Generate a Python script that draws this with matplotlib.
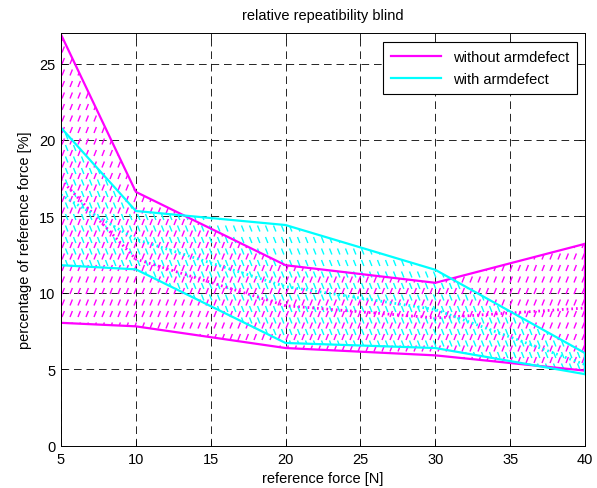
import numpy as np
import matplotlib
matplotlib.use("Agg")
import matplotlib.pyplot as plt
from matplotlib.collections import LineCollection

plt.rcParams['font.family'] = ['Liberation Sans', 'DejaVu Sans']
plt.rcParams['lines.scale_dashes'] = False

# ---- data ----
force = [5, 10, 20, 30, 40]
without_upper = [26.9, 16.6, 11.8, 10.65, 13.2]
without_mean = [17.4, 12.2, 9.15, 8.35, 9.0]
without_lower = [8.03, 7.8, 6.38, 5.9, 4.9]
with_upper = [20.8, 15.35, 14.43, 11.5, 6.05]
with_mean = [16.4, 13.5, 10.4, 8.9, 5.3]
with_lower = [11.8, 11.53, 6.71, 6.38, 4.67]

title = "relative repeatibility blind"
xlabel = "reference force [N]"
ylabel = "percentage of reference force [%]"
legend_labels = ["without armdefect", "with armdefect"]
xticks = [5, 10, 15, 20, 25, 30, 35, 40]
yticks = [0, 5, 10, 15, 20, 25]

MAG = '#ff00ff'
CYA = '#00ffff'
FS = 10.5

W, H = 597, 489
fig = plt.figure(figsize=(W / 100, H / 100), dpi=100)
ax = fig.add_axes([61 / W, 42.5 / H, 524 / W, 412.5 / H])
ax.set_xlim(5, 40)
ax.set_ylim(0, 27)
axw, axh = 524.0, 412.5


def hatch_region(x, lo, hi, color, direction, xoff, yoff):
    poly = ax.fill_between(x, lo, hi, facecolor='none', edgecolor='none')
    segs = []
    dx, dy = 8.0, 11.5       # pixel spacing
    sw, sh = 2.4, 6.0        # dash size in pixels
    y = yoff
    while y < axh:
        xx = xoff
        while xx < axw:
            if direction > 0:
                segs.append([((xx) / axw, (y) / axh), ((xx + sw) / axw, (y + sh) / axh)])
            else:
                segs.append([((xx) / axw, (y + sh) / axh), ((xx + sw) / axw, (y) / axh)])
            xx += dx
        y += dy
    lc = LineCollection(segs, colors=color, linewidths=1.0, transform=ax.transAxes)
    ax.add_collection(lc)
    lc.set_clip_path(poly.get_paths()[0], poly.get_transform())


hatch_region(force, without_lower, without_upper, MAG, +1, 1.0, 2.0)
hatch_region(force, with_lower, with_upper, CYA, -1, 4.5, 7.0)

l1, = ax.plot(force, without_upper, color=MAG, lw=1.6)
ax.plot(force, without_lower, color=MAG, lw=1.6)
ax.plot(force, without_mean, color=MAG, lw=2.0, ls=(0, (1.2, 2.2)))
l2, = ax.plot(force, with_upper, color=CYA, lw=1.6)
ax.plot(force, with_lower, color=CYA, lw=1.6)
ax.plot(force, with_mean, color=CYA, lw=2.0, ls=(0, (1.2, 2.2)))
# closing edges at x=40
ax.plot([force[-1], force[-1]], [without_lower[-1], without_upper[-1]], color=MAG, lw=1.6)
ax.plot([force[-1], force[-1]], [with_lower[-1], with_upper[-1]], color=CYA, lw=1.6)

ax.set_xticks(xticks)
ax.set_yticks(yticks)
ax.grid(True, color='black', lw=0.6, ls=(0, (5.5, 3.5)))
ax.set_axisbelow(True)
ax.tick_params(direction='in', length=4, top=True, right=True, labelsize=FS, width=0.6)
ax.tick_params(axis='y', pad=4)
ax.tick_params(axis='x', pad=5)
for s in ax.spines.values():
    s.set_linewidth(0.7)

ax.set_title(title, fontsize=FS, pad=10)
ax.set_xlabel(xlabel, fontsize=FS, labelpad=3)
ax.set_ylabel(ylabel, fontsize=FS, labelpad=5)

leg = ax.legend([l1, l2], legend_labels, loc='upper right',
                bbox_to_anchor=(0.9847, 0.979), fontsize=FS, handlelength=3.4,
                fancybox=False, framealpha=1, edgecolor='black', borderaxespad=0,
                borderpad=0.55, labelspacing=0.6, handletextpad=0.8)
leg.get_frame().set_linewidth(0.8)

fig.savefig("out.png", dpi=100)
